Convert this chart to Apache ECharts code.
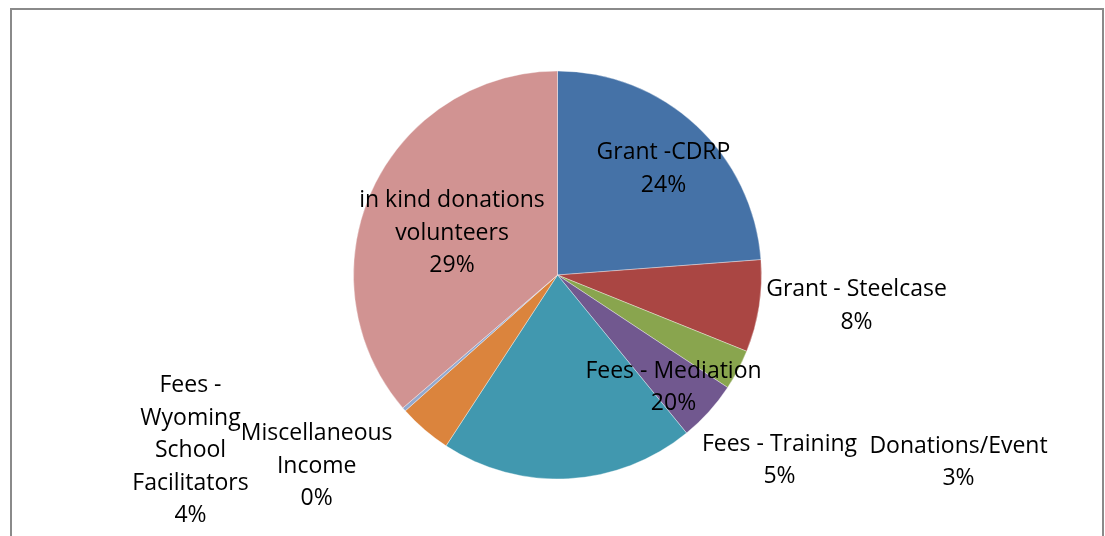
<!DOCTYPE html>
<html>
<head>
<meta charset="utf-8">
<script src="https://cdn.jsdelivr.net/npm/echarts@6/dist/echarts.min.js"></script>
<style>
html,body{margin:0;padding:0;background:#fff;}
#chart{width:1105px;height:536px;}
</style>
</head>
<body>
<div id="chart"></div>
<script>
// Category names (as shown in the labels)
var categories = [
  "Grant -CDRP",
  "Grant - Steelcase",
  "Donations/Event",
  "Fees - Training",
  "Fees - Mediation",
  "Fees -\nWyoming\nSchool\nFacilitators",
  "Miscellaneous\nIncome",
  "in kind donations\nvolunteers"
];
// Slice sizes (percent of circle)
var values = [23.8, 7.3, 3.2, 4.8, 20.1, 4.2, 0.3, 36.3];
// Percent texts as printed on the reference labels
var percentLabels = ["24%", "8%", "3%", "5%", "20%", "4%", "0%", "29%"];

var colors = ["#4572A7", "#AA4643", "#89A54E", "#71588F", "#4198AF", "#DB843D", "#93A9CF", "#D19392"];
// Label block centres (layout only)
var labelPos = [
  [663.5, 169], [856.5, 306], [958.5, 462.5], [779.5, 460.5],
  [673.5, 387.5], [190.5, 450.5], [316.7, 466], [452, 233]
];

var chart = echarts.init(document.getElementById('chart'), null, {renderer: 'canvas'});
var data = categories.map(function (c, i) {
  return { name: c, value: values[i], itemStyle: { color: colors[i] } };
});
chart.setOption({
  animation: false,
  backgroundColor: '#ffffff',
  graphic: [{
    type: 'rect',
    shape: { x: 11, y: 9, width: 1092, height: 600 },
    style: { fill: 'none', stroke: '#8a8a8a', lineWidth: 2 },
    silent: true
  }],
  series: [{
    type: 'pie',
    center: [557.5, 275],
    radius: 204,
    startAngle: 90,
    clockwise: true,
    avoidLabelOverlap: false,
    data: data,
    itemStyle: { borderColor: 'rgba(255,255,255,0.6)', borderWidth: 0.6 },
    label: {
      show: true,
      position: 'outside',
      color: '#000',
      fontFamily: 'Open Sans',
      fontSize: 23,
      lineHeight: 32.5,
      align: 'center',
      formatter: function (p) { return p.name + '\n' + percentLabels[p.dataIndex]; }
    },
    labelLine: { show: false },
    labelLayout: function (p) {
      var pos = labelPos[p.dataIndex];
      return { x: pos[0], y: pos[1], align: 'center', verticalAlign: 'middle' };
    },
    emphasis: { disabled: true }
  }]
});
</script>
</body>
</html>
